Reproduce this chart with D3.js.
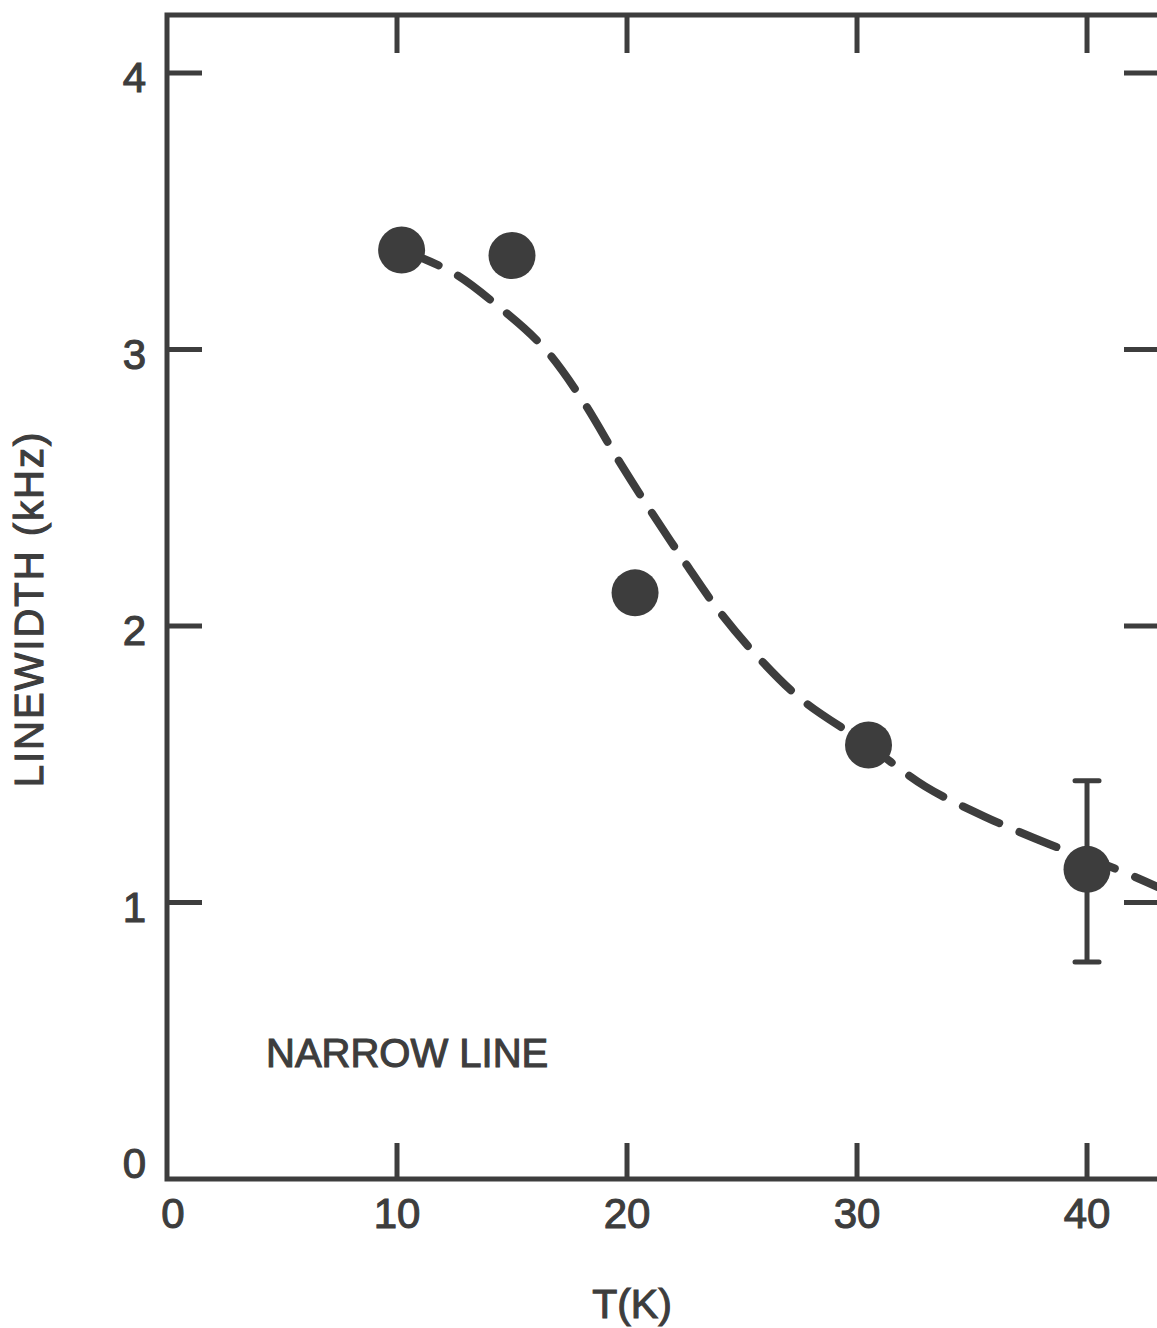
<!DOCTYPE html>
<html>
<head>
<meta charset="utf-8">
<script src="https://cdn.jsdelivr.net/npm/d3@7"></script>
<style>
  body { margin: 0; background: #fff; }
  svg { display: block; }
  text { font-family: "Liberation Sans", Arial, sans-serif; fill: #3d3d3d; stroke: #3d3d3d; stroke-width: 1.1px; }
</style>
</head>
<body>
<svg width="1157" height="1328"></svg>
<script>
// measured points, T in K and linewidth in kHz
var temps = [10.2, 15.0, 20.35, 30.5, 40.0];
var widths = [3.36, 3.34, 2.12, 1.57, 1.12];
// only the 40 K point has an error bar
var errLow = [null, null, null, null, 0.785];
var errHigh = [null, null, null, null, 1.44];

// dashed fit curve
var fitT = [10.2, 12.4, 14.35, 16.35, 17.96, 19.7, 21.0, 22.52, 24.04, 25.78, 27.65, 30.48, 32.96, 35.57, 38.39, 41.3, 43.1];
var fitW = [3.36, 3.28, 3.16, 3.01, 2.83, 2.59, 2.42, 2.23, 2.05, 1.88, 1.73, 1.57, 1.42, 1.31, 1.21, 1.12, 1.055];

var xTicks = [0, 10, 20, 30, 40];
var yTicks = [0, 1, 2, 3, 4];

var ink = "#3d3d3d";
var xMax = 43.26, yMax = 4.21;

var svg = d3.select("svg");

var x = d3.scaleLinear().domain([0, xMax]).range([167, 1162]),
    y = d3.scaleLinear().domain([0, yMax]).range([1179, 15]);

var g = svg.append("g");

// frame (right side runs just past the page edge)
g.append("rect")
  .attr("x", x(0)).attr("y", y(yMax))
  .attr("width", x(xMax) - x(0)).attr("height", y(0) - y(yMax))
  .attr("fill", "none").attr("stroke", ink).attr("stroke-width", 5);

// inward ticks on all four sides
var inner = xTicks.filter(function(d){ return d > 0; });
g.selectAll(".tb").data(inner).enter().append("line")
  .attr("x1", function(d){ return x(d); }).attr("x2", function(d){ return x(d); })
  .attr("y1", y(0)).attr("y2", y(0) - 36)
  .attr("stroke", ink).attr("stroke-width", 5);
g.selectAll(".tt").data(inner).enter().append("line")
  .attr("x1", function(d){ return x(d); }).attr("x2", function(d){ return x(d); })
  .attr("y1", y(yMax)).attr("y2", y(yMax) + 38)
  .attr("stroke", ink).attr("stroke-width", 5);

var innerY = yTicks.filter(function(d){ return d > 0; });
g.selectAll(".tl").data(innerY).enter().append("line")
  .attr("x1", x(0)).attr("x2", x(0) + 35)
  .attr("y1", function(d){ return y(d); }).attr("y2", function(d){ return y(d); })
  .attr("stroke", ink).attr("stroke-width", 5);
g.selectAll(".tr").data(innerY).enter().append("line")
  .attr("x1", x(xMax)).attr("x2", x(xMax) - 38)
  .attr("y1", function(d){ return y(d); }).attr("y2", function(d){ return y(d); })
  .attr("stroke", ink).attr("stroke-width", 5);

// tick labels
g.selectAll(".xl").data(xTicks).enter().append("text")
  .attr("x", function(d){ return x(d) + (d === 0 ? 6 : 0); })
  .attr("y", y(0) + 49)
  .attr("text-anchor", "middle")
  .attr("font-size", 42)
  .text(function(d){ return d; });

g.selectAll(".yl").data(yTicks).enter().append("text")
  .attr("x", 146)
  .attr("y", function(d){ return d === 0 ? y(0) - 1 : y(d) + 19; })
  .attr("text-anchor", "end")
  .attr("font-size", 42)
  .text(function(d){ return d; });

// axis titles
svg.append("text")
  .attr("x", 632).attr("y", 1318)
  .attr("text-anchor", "middle")
  .attr("font-size", 41)
  .text("T(K)");

svg.append("text")
  .attr("transform", "translate(43,609) rotate(-90)")
  .attr("text-anchor", "middle")
  .attr("font-size", 40)
  .attr("letter-spacing", 2)
  .text("LINEWIDTH (kHz)");

svg.append("text")
  .attr("x", 266).attr("y", 1067)
  .attr("font-size", 40)
  .text("NARROW LINE");

// dashed curve
var fit = fitT.map(function(t, i){ return {t: t, w: fitW[i]}; });
var line = d3.line()
  .x(function(d){ return x(d.t); })
  .y(function(d){ return y(d.w); })
  .curve(d3.curveCatmullRom);

g.append("path")
  .attr("d", line(fit))
  .attr("fill", "none")
  .attr("stroke", ink)
  .attr("stroke-width", 8)
  .attr("stroke-linecap", "round")
  .attr("stroke-dasharray", "40,22");

// error bar
var pts = temps.map(function(t, i){
  return {t: t, w: widths[i], lo: errLow[i], hi: errHigh[i]};
});
var eb = g.selectAll(".eb").data(pts.filter(function(d){ return d.lo != null; }))
  .enter().append("g");
eb.append("line")
  .attr("x1", function(d){ return x(d.t); }).attr("x2", function(d){ return x(d.t); })
  .attr("y1", function(d){ return y(d.lo); }).attr("y2", function(d){ return y(d.hi); })
  .attr("stroke", ink).attr("stroke-width", 5);
eb.append("line")
  .attr("x1", function(d){ return x(d.t) - 12; }).attr("x2", function(d){ return x(d.t) + 12; })
  .attr("y1", function(d){ return y(d.lo); }).attr("y2", function(d){ return y(d.lo); })
  .attr("stroke", ink).attr("stroke-width", 5).attr("stroke-linecap", "round");
eb.append("line")
  .attr("x1", function(d){ return x(d.t) - 12; }).attr("x2", function(d){ return x(d.t) + 12; })
  .attr("y1", function(d){ return y(d.hi); }).attr("y2", function(d){ return y(d.hi); })
  .attr("stroke", ink).attr("stroke-width", 5).attr("stroke-linecap", "round");

// points
g.selectAll(".pt").data(pts).enter().append("circle")
  .attr("cx", function(d){ return x(d.t); })
  .attr("cy", function(d){ return y(d.w); })
  .attr("r", 23.5)
  .attr("fill", ink);
</script>
</body>
</html>
